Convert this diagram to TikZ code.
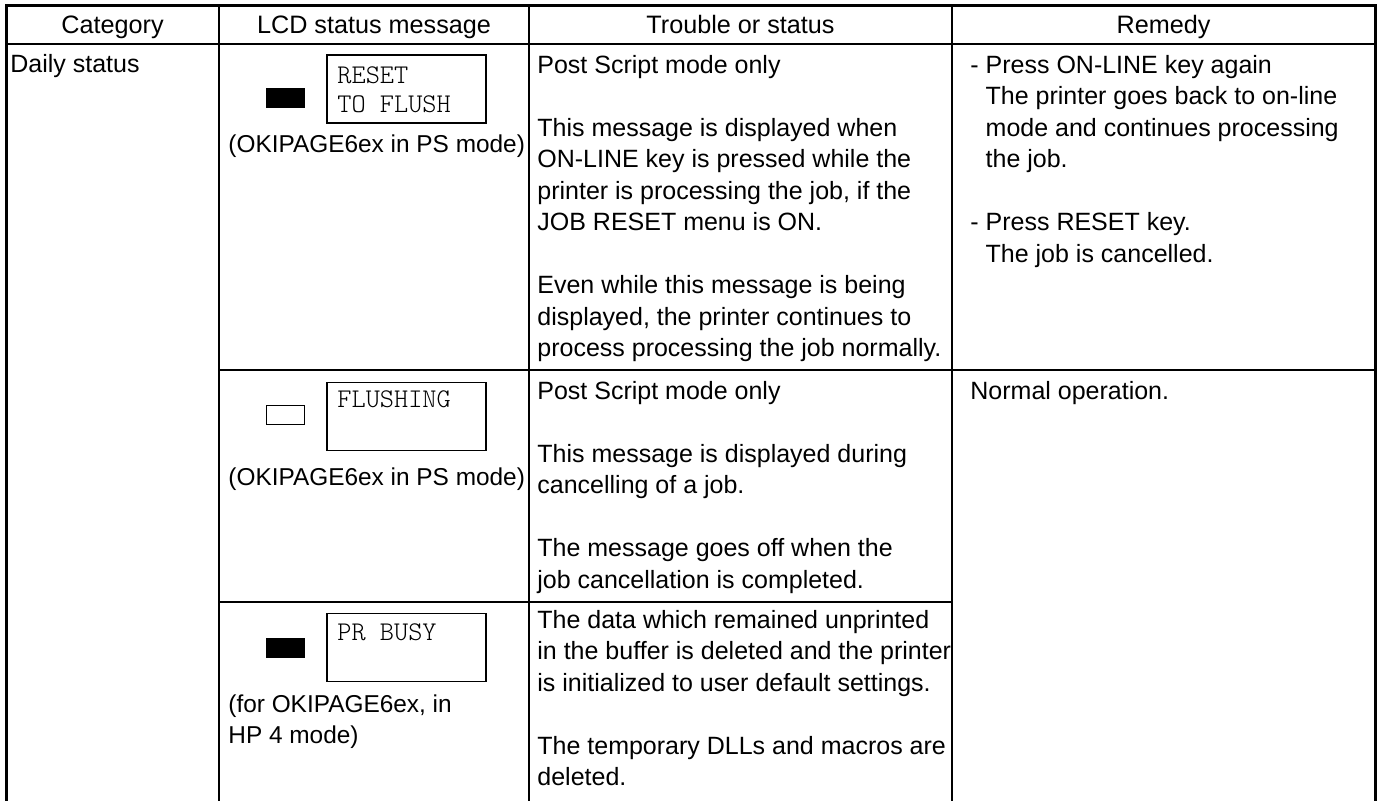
\documentclass[tikz,border=0pt]{standalone}
\usepackage{fontspec}
\setmainfont{Liberation Sans}
\newfontfamily\lcdfont{Latin Modern Mono Light}

\begin{document}
\begin{tikzpicture}[x=0.5pt,y=-0.5pt,
        thin rule/.style={line width=0.6pt},
        thick rule/.style={line width=1.5pt},
        head text/.style={font=\fontsize{12.6}{15.75}\selectfont,inner sep=0pt,anchor=base},
        cell text/.style={font=\fontsize{12.5}{15.75}\selectfont,inner sep=0pt,anchor=north west,align=left},
        lcd label/.style={font=\fontsize{12.2}{15.5}\selectfont,inner sep=0pt,anchor=north west,align=left},
        lcd box/.style={draw,line width=0.6pt,minimum width=79.5pt,minimum height=34pt,inner sep=0pt},
        lcd text/.style={font=\lcdfont\fontsize{13.5}{14.5}\selectfont,inner sep=0pt,anchor=north west,align=left},
        lamp on/.style={draw,fill=black,line width=0.5pt,minimum width=19pt,minimum height=9.5pt,inner sep=0pt},
        lamp off/.style={lamp on,fill=white}]

    \useasboundingbox (0,0) rectangle (1381,801);

    % frame and rules
    \draw[thick rule] (6,801) -- (6,6) -- (1375,6) -- (1375,801);
    \draw[thin rule] (6,44) -- (1375,44);
    \draw[thin rule] (219,6) -- (219,801);
    \draw[thin rule] (529,6) -- (529,801);
    \draw[thin rule] (952,6) -- (952,801);
    \draw[thin rule] (219,370) -- (1375,370);
    \draw[thin rule] (219,602) -- (952,602);

    % header
    \node[head text] (hcat) at (112.5,34) {Category};
    \node[head text] (hlcd) at (374,34) {LCD status message};
    \node[head text] (htrb) at (740.5,34) {Trouble or status};
    \node[head text] (hrem) at (1163.5,34) {Remedy};

    \node[cell text] (cat) at (10,50) {\strut Daily status};

    % RESET TO FLUSH
    \node[lamp on] (lamp1) at (285,98.5) {};
    \node[lcd box] (lcd1) at (406.5,89) {};
    \node[lcd text] (msg1) at (337,62.7) {\strut RESET\\TO FLUSH};
    \node[lcd label] (mode1) at (228,130.3) {\strut(OKIPAGE6ex in PS mode)};
    \node[cell text] (trb1) at (537,51) {\strut Post Script mode only\\ \\
        This message is displayed when\\ON-LINE key is pressed while the\\
        printer is processing the job, if the\\JOB RESET menu is ON.\\ \\
        Even while this message is being\\displayed, the printer continues to\\
        process processing the job normally.};
    \node[cell text] (rem1) at (970,51) {\strut- Press ON-LINE key again\\
        \hphantom{- }The printer goes back to on-line\\
        \hphantom{- }mode and continues processing\\
        \hphantom{- }the job.\\ \\
        - Press RESET key.\\
        \hphantom{- }The job is cancelled.};

    % FLUSHING
    \node[lamp off] (lamp2) at (285,415) {};
    \node[lcd box] (lcd2) at (406.5,416.5) {};
    \node[lcd text] (msg2) at (337,386.7) {\strut FLUSHING};
    \node[lcd label] (mode2) at (228,463.3) {\strut(OKIPAGE6ex in PS mode)};
    \node[cell text] (trb2) at (537,377) {\strut Post Script mode only\\ \\
        This message is displayed during\\cancelling of a job.\\ \\
        The message goes off when the\\job cancellation is completed.};
    \node[cell text] (rem2) at (970,377) {\strut Normal operation.};

    % PR BUSY
    \node[lamp on] (lamp3) at (285,647.5) {};
    \node[lcd box] (lcd3) at (406.5,647.5) {};
    \node[lcd text] (msg3) at (337,619.7) {\strut PR BUSY};
    \node[lcd label] (mode3) at (228,690.3) {\strut(for OKIPAGE6ex, in\\HP 4 mode)};
    \node[cell text] (trb3) at (537,606) {\strut The data which remained unprinted\\
        in the buffer is deleted and the printer\\
        is initialized to user default settings.\\ \\
        The temporary DLLs and macros are\\deleted.};

\end{tikzpicture}
\end{document}
